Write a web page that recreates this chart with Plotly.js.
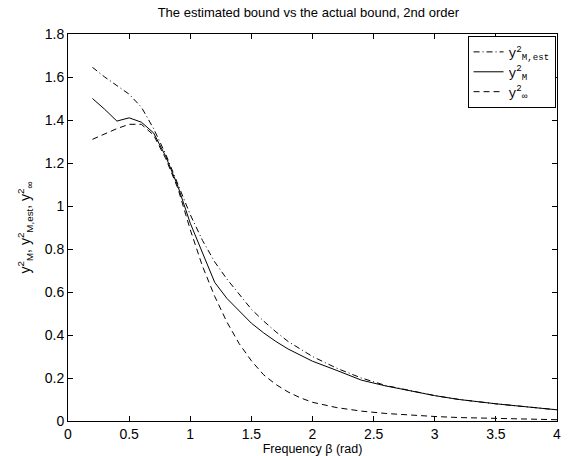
<!DOCTYPE html>
<html>
<head>
<meta charset="utf-8">
<script src="https://cdn.plot.ly/plotly-3.0.1.min.js"></script>
<style>html,body{margin:0;padding:0;background:#fff}#chart{width:571px;height:456px}</style>
</head>
<body>
<div id="chart"></div>
<script>
var freq = [0.2,0.3,0.4,0.5,0.6,0.7,0.8,0.9,1.0,1.1,1.2,1.3,1.4,1.5,1.6,1.7,1.8,1.9,2.0,2.2,2.4,2.6,2.8,3.0,3.2,3.5,4.0];
var yMest = [1.645,1.60,1.56,1.52,1.46,1.36,1.24,1.10,0.96,0.84,0.74,0.66,0.59,0.52,0.465,0.415,0.37,0.335,0.30,0.245,0.20,0.165,0.14,0.118,0.10,0.08,0.052];
var yM = [1.50,1.45,1.395,1.41,1.39,1.34,1.23,1.09,0.92,0.78,0.645,0.57,0.51,0.455,0.41,0.37,0.335,0.305,0.278,0.235,0.19,0.163,0.14,0.118,0.10,0.08,0.052];
var yInf = [1.31,1.335,1.36,1.38,1.38,1.33,1.22,1.08,0.89,0.72,0.58,0.46,0.36,0.28,0.215,0.17,0.135,0.108,0.087,0.062,0.046,0.035,0.027,0.021,0.016,0.011,0.006];
var names = ['y<sup>2</sup><sub>M,est</sub>','y<sup>2</sup><sub>M</sub>','y<sup>2</sup><sub>\u221e</sub>'];
var xTicks = [0,0.5,1,1.5,2,2.5,3,3.5,4];
var xTickText = ['0','0.5','1','1.5','2','2.5','3','3.5','4'];
var yTicks = [0,0.2,0.4,0.6,0.8,1,1.2,1.4,1.6,1.8];
var yTickText = ['0','0.2','0.4','0.6','0.8','1','1.2','1.4','1.6','1.8'];

var traces = [
  {x: freq, y: yMest, name: names[0], mode: 'lines', line: {color: '#000', width: 1, dash: '6px,3px,1px,3px'}},
  {x: freq, y: yM, name: names[1], mode: 'lines', line: {color: '#000', width: 1}},
  {x: freq, y: yInf, name: names[2], mode: 'lines', line: {color: '#000', width: 1, dash: '6px,4px'}}
];
var axisCommon = {
  showline: true, linecolor: '#000', linewidth: 1, mirror: 'ticks',
  ticks: 'inside', ticklen: 5, tickcolor: '#000', tickwidth: 1,
  showgrid: false, zeroline: false,
  tickfont: {family: 'Liberation Sans, Arial, sans-serif', size: 14, color: '#000'}
};
var layout = {
  width: 571, height: 456,
  margin: {l: 68, r: 14, t: 34, b: 35},
  paper_bgcolor: '#fff', plot_bgcolor: '#fff',
  title: {text: 'The estimated bound vs the actual bound, 2nd order', font: {family: 'Liberation Sans, Arial, sans-serif', size: 13, color: '#000'}, x: 0.54, xanchor: 'center', y: 0.972, yanchor: 'middle'},
  xaxis: Object.assign({}, axisCommon, {range: [0, 4], tickvals: xTicks, ticktext: xTickText,
    title: {text: 'Frequency \u03b2 (rad)', font: {family: 'Liberation Sans, Arial, sans-serif', size: 12.5, color: '#000'}, standoff: 0}}),
  yaxis: Object.assign({}, axisCommon, {range: [0, 1.8], tickvals: yTicks, ticktext: yTickText,
    title: {text: 'y<sup>2</sup><sub>M</sub>, y<sup>2</sup><sub>M,est</sub>, y<sup>2</sup><sub>\u221e</sub>', font: {family: 'Liberation Sans, Arial, sans-serif', size: 14, color: '#000'}, standoff: 10}}),
  showlegend: true,
  legend: {x: 0.997, xanchor: 'right', y: 0.995, yanchor: 'top', bordercolor: '#000', borderwidth: 1, bgcolor: '#fff',
    font: {family: 'Liberation Mono, Courier New, monospace', size: 13, color: '#000'}, tracegroupgap: 0}
};
Plotly.newPlot('chart', traces, layout, {displayModeBar: false, staticPlot: true});
</script>
</body>
</html>
